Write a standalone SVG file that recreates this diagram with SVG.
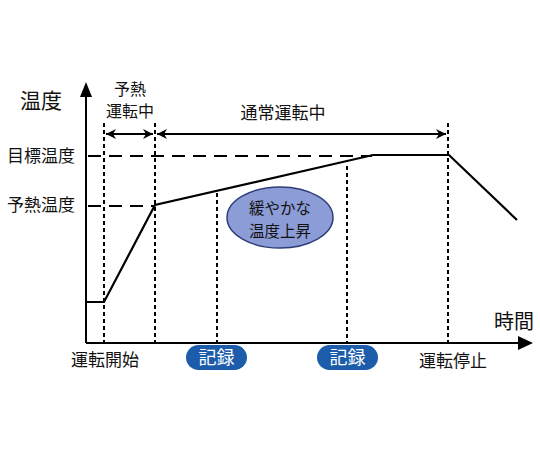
<svg xmlns="http://www.w3.org/2000/svg" width="540" height="450" viewBox="0 0 540 450">
<defs>
<marker id="ah" viewBox="0 0 10 10" refX="10" refY="5" markerWidth="6" markerHeight="5" orient="auto-start-reverse" markerUnits="strokeWidth">
<path d="M0,0 L10,5 L0,10 L3,5 z" fill="#000"/>
</marker>
</defs>
<style>
text{font-family:"Noto Sans CJK JP","Noto Sans CJK SC",sans-serif;fill:#111;}
.lbl{font-size:17px;}
.dot{stroke:#000;stroke-width:2;stroke-dasharray:4 3;fill:none;}
.dash{stroke:#000;stroke-width:2;stroke-dasharray:13 8;fill:none;}
.ax{stroke:#000;stroke-width:2;fill:none;}
.pill{fill:#1c5cab;}
.pt{font-size:18px;fill:#fff;}
</style>
<rect width="540" height="450" fill="#fff"/>
<g id="connectors">
<line class="dash" x1="88" y1="156" x2="372" y2="156"/>
<line class="dash" x1="88" y1="206" x2="154" y2="206"/>
<line class="dot" x1="104" y1="123" x2="104" y2="342"/>
<line class="dot" x1="155" y1="123" x2="155" y2="342"/>
<line class="dot" x1="448" y1="123" x2="448" y2="342"/>
<line class="dot" x1="217" y1="193" x2="217" y2="342"/>
<line class="dot" x1="347" y1="166" x2="347" y2="342"/>
<line x1="86" y1="343" x2="86" y2="96" class="ax"/>
<path d="M86,82 L80,97 L92,97 z" fill="#000"/>
<line x1="86" y1="343" x2="519" y2="343" class="ax"/>
<path d="M533,343 L518,336 L518,350 z" fill="#000"/>
<line x1="106" y1="134" x2="153" y2="134" stroke="#000" stroke-width="2" marker-start="url(#ah)" marker-end="url(#ah)"/>
<line x1="157" y1="134" x2="446" y2="134" stroke="#000" stroke-width="2" marker-start="url(#ah)" marker-end="url(#ah)"/>
<polyline points="86,302 104,302 155,205 373,155 449,155 517,220" fill="none" stroke="#000" stroke-width="2.2" stroke-linejoin="miter"/>
</g>
<g id="axis-labels">
<text x="41" y="108" font-size="21" text-anchor="middle">温度</text>
<text x="514" y="329" font-size="20" text-anchor="middle">時間</text>
<text class="lbl" x="41" y="162" text-anchor="middle">目標温度</text>
<text class="lbl" x="41" y="211" text-anchor="middle">予熱温度</text>
</g>
<g id="phase-preheat">
<text x="130" y="95" font-size="16" text-anchor="middle">予熱</text>
<text x="130" y="117" font-size="16" text-anchor="middle">運転中</text>
</g>
<g id="phase-normal">
<text class="lbl" x="283" y="119" text-anchor="middle">通常運転中</text>
</g>
<g id="gentle-rise">
<ellipse cx="280" cy="217.5" rx="53" ry="30.5" fill="#8c9cd6" stroke="#2e3d7a" stroke-width="1.5"/>
<text x="280" y="214" font-size="15.5" text-anchor="middle">緩やかな</text>
<text x="280" y="237" font-size="15.5" text-anchor="middle">温度上昇</text>
</g>
<g id="start">
<text class="lbl" x="105" y="366" text-anchor="middle">運転開始</text>
</g>
<g id="stop">
<text class="lbl" x="453" y="367" text-anchor="middle">運転停止</text>
</g>
<g id="record1">
<rect class="pill" x="186" y="345" width="61" height="25" rx="12.5"/>
<text class="pt" x="216.5" y="364" text-anchor="middle">記録</text>
</g>
<g id="record2">
<rect class="pill" x="317" y="345" width="61" height="25" rx="12.5"/>
<text class="pt" x="347.5" y="364" text-anchor="middle">記録</text>
</g>
</svg>
